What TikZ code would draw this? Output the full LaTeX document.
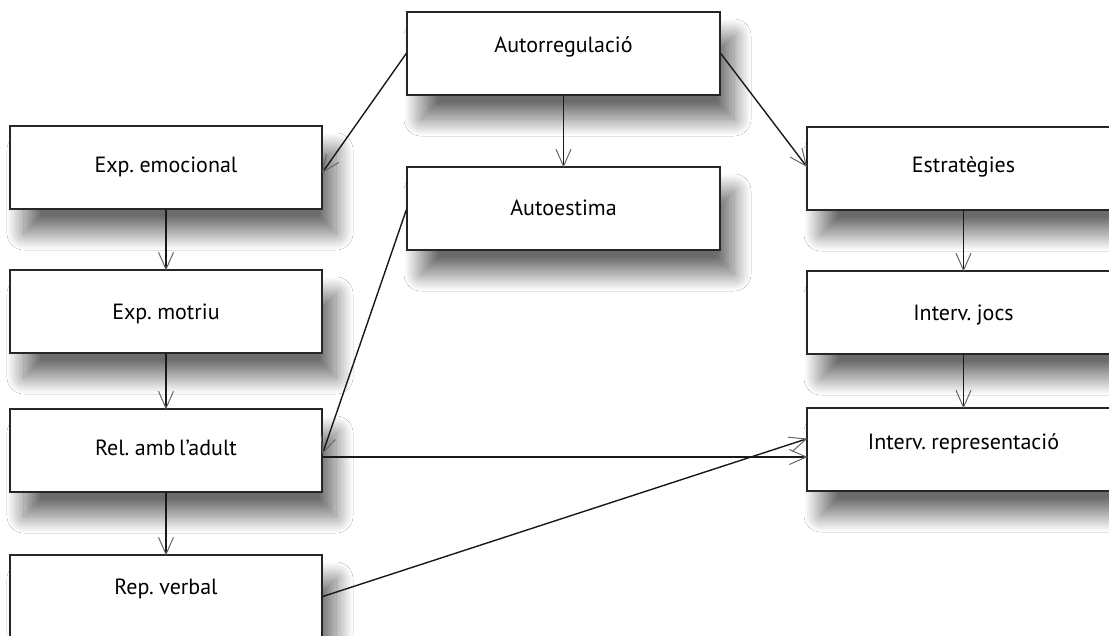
\documentclass[tikz,border=0pt]{standalone}
\usepackage{fontspec}
\setmainfont[WordSpace=0.6]{PT Sans}
\usetikzlibrary{calc,shadows.blur}
\tikzset{
  box/.style={draw=black!85, line width=1.5pt, fill=white, rectangle,
    minimum width=313pt, minimum height=83pt, inner sep=0pt,
    font=\fontsize{22}{26}\selectfont,
    blur shadow={shadow xshift=14pt, shadow yshift=-24pt, shadow blur radius=17pt, shadow blur steps=40, shadow opacity=58}},
  tb/.style 2 args={text height=#1, text depth=#2},
  link/.style={draw=black!90, line width=1.4pt},
  tipline/.style={draw=black!60, line width=1pt, line join=miter}
}
% connector from #1 to #2 with an open gray V tip at #2
\newcommand\arrowlink[2]{%
  \draw[link] (#1) -- (#2);
  \draw[tipline] ($(#2)!17pt!(#1)!7.5pt!90:(#1)$) -- (#2) -- ($(#2)!17pt!(#1)!7.5pt!-90:(#1)$);}
\begin{document}
\begin{tikzpicture}[x=1pt,y=1pt]
\useasboundingbox (0,-635) rectangle (1109,0);
\fill[white] (0,-635) rectangle (1109,0);
\clip (0,-635) rectangle (1109,0);
% nodes
\node[box, tb={8.5pt}{11.5pt}] (auto)  at (563.5,-53.5)  {Autorregulació};
\node[box, minimum width=312pt, tb={14.5pt}{5.5pt}] (emo) at (166,-167.5) {Exp. emocional};
\node[box, tb={16.5pt}{3.5pt}] (autoe) at (563.5,-208.5) {Autoestima};
\node[box, tb={13.5pt}{6.5pt}] (estr)  at (963.5,-168.5) {Estratègies};
\node[box, minimum width=312pt, tb={17.5pt}{2.5pt}] (mot) at (166,-311.5) {Exp. motriu};
\node[box, tb={17.5pt}{2.5pt}] (jocs)  at (963.5,-312.5) {Interv. jocs};
\node[box, minimum width=312pt, tb={14.5pt}{5.5pt}] (rel) at (166,-450.5) {Rel. amb l’adult};
\node[box, tb={9.5pt}{10.5pt}] (repr)  at (963.5,-449.5) {Interv. representació};
\node[box, minimum width=312pt, tb={7.5pt}{12.5pt}] (rep) at (166,-596.5) {Rep. verbal};
% connector ends
\coordinate (emoIn)   at ([yshift=-4.5pt]emo.east);
\coordinate (estrIn)  at ([yshift=2.5pt]estr.west);
\coordinate (autoeOut) at ([yshift=-1.5pt]autoe.west);
\coordinate (relIn)   at ([yshift=-2.5pt]rel.east);
\coordinate (relOut)  at ([yshift=-6.5pt]rel.east);
\coordinate (reprInA) at ([yshift=-7.5pt]repr.west);
\coordinate (reprInB) at ([yshift=10.5pt]repr.west);
% connectors
\arrowlink{auto.west}{emoIn}
\arrowlink{auto.east}{estrIn}
\arrowlink{auto.south}{autoe.north}
\arrowlink{autoeOut}{relIn}
\arrowlink{emo.south}{mot.north}
\arrowlink{mot.south}{rel.north}
\arrowlink{rel.south}{rep.north}
\arrowlink{estr.south}{jocs.north}
\arrowlink{jocs.south}{repr.north}
\arrowlink{relOut}{reprInA}
\arrowlink{rep.east}{reprInB}
\end{tikzpicture}
\end{document}
